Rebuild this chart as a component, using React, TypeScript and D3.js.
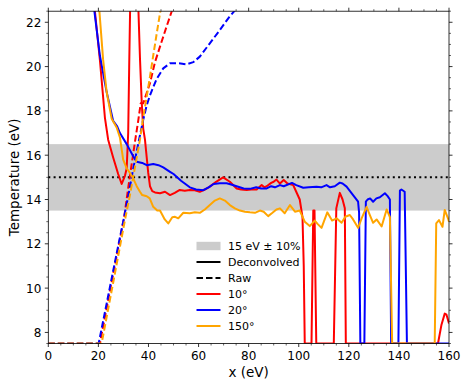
import React from "react";
import * as d3 from "d3";

type Pt = [number, number];

const xTicks = [0, 20, 40, 60, 80, 100, 120, 140, 160];
const yTicks = [8, 10, 12, 14, 16, 18, 20, 22];
const xDomain: Pt = [0, 160];
const yDomain: Pt = [7.5, 22.5];
const target = 15;
const bandLow = 13.5;
const bandHigh = 16.5;

const legendLabels = ["15 eV ± 10%", "Deconvolved", "Raw", "10°", "20°", "150°"];

const deconv10: Pt[] = [
  [17.5, 24], [18.6, 22.5], [20.6, 20.3], [22.6, 17.7], [23.9, 16.7], [25.9, 15.9], [27.9, 15.15],
  [29.3, 14.7], [30.6, 15.07], [31.3, 15.4], [31.9, 17.0], [32.3, 20], [32.8, 23.5], [35.6, 23.5],
  [36.0, 22.5], [36.6, 20.4], [37.3, 18.4], [37.9, 17.2], [38.6, 16.7], [39.9, 15.2], [40.6, 14.6],
  [41.5, 14.38], [42.6, 14.32], [44.6, 14.28], [46.6, 14.35], [48.6, 14.2], [50.5, 14.3], [52.5, 14.43],
  [54.5, 14.4], [56.5, 14.43], [58.5, 14.42], [60.5, 14.35], [62.5, 14.45], [64.5, 14.58], [67, 14.8],
  [69.8, 15.0], [72.5, 14.8], [75.2, 14.5], [77, 14.45], [79.2, 14.43], [81, 14.45], [83.2, 14.45],
  [85.2, 14.65], [86.3, 14.55], [87.2, 14.6], [89, 14.75], [90, 14.8], [91.1, 14.9], [92.5, 14.72],
  [94.0, 14.88], [95.5, 14.72], [97.8, 14.65], [99, 14.35], [100.4, 14.0], [101.5, 13.2], [102, 11],
  [102.4, 7.5], [105.1, 7.5], [105.8, 13.5], [106.3, 13.5], [107, 7.5], [114, 7.5], [115, 13.6],
  [116.4, 14.3], [117.5, 14.0], [118.4, 13.6], [118.8, 7.5], [155.6, 7.5], [157, 8.35], [158.3, 8.85],
  [159, 8.8], [160, 8.4],
];

const deconv20: Pt[] = [
  [17.5, 24], [18.4, 22.5], [20.6, 20.5], [23.3, 18.85], [25.9, 17.55], [27.5, 17.3], [28.6, 17.0],
  [31.3, 16.5], [33.9, 15.95], [35.3, 15.7], [37.5, 15.65], [39.3, 15.55], [41.9, 15.6], [44, 15.55],
  [45.9, 15.45], [48.6, 15.25], [50, 15.15], [53, 14.85], [56.5, 14.55], [59, 14.45], [61.9, 14.42],
  [64, 14.55], [66, 14.7], [68.5, 14.73], [71.2, 14.73], [73, 14.68], [75.2, 14.6], [78, 14.5],
  [80.5, 14.48], [83, 14.55], [85, 14.5], [87.2, 14.5], [89, 14.6], [90.5, 14.55], [92.5, 14.65],
  [94, 14.6], [97.3, 14.75], [99, 14.65], [101.8, 14.53], [104, 14.55], [107.1, 14.58], [109, 14.55],
  [111.1, 14.65], [112.5, 14.55], [114.4, 14.6], [116.4, 14.76], [117.5, 14.72], [119.1, 14.58],
  [121.7, 14.2], [123.7, 13.9], [124.1, 13.4], [124.6, 7.5], [126.2, 7.5], [126.8, 13.9], [127.5, 14.0],
  [128.5, 14.05], [129.7, 13.9], [131, 14.05], [132.4, 14.1], [134.4, 14.28], [135.5, 14.15],
  [136.4, 14.0], [136.9, 7.5], [139.8, 7.5], [140.4, 14.4], [141, 14.45], [142.3, 14.35], [143.2, 7.5],
  [160, 7.5],
];

const deconv150: Pt[] = [
  [18.5, 24], [20.4, 22.5], [21.9, 20.3], [23.3, 18.85], [25.3, 17.65], [27.3, 17.25], [28.6, 16.8],
  [29.9, 15.8], [31.3, 15.4], [32.6, 15.2], [33.9, 14.95], [35.3, 14.6], [36.6, 14.35], [37.5, 14.2],
  [39.3, 14.15], [40.5, 14.05], [41.9, 13.67], [43.5, 13.5], [44.6, 13.5], [46.5, 13.1], [47.9, 12.92],
  [49.5, 13.2], [50.6, 13.22], [51.9, 13.15], [53.9, 13.4], [56.5, 13.38], [58.5, 13.42], [60.5, 13.4],
  [62.5, 13.55], [64.5, 13.75], [66.5, 13.95], [68.5, 14.05], [70.5, 13.95], [72.5, 13.75],
  [74.5, 13.6], [76.5, 13.5], [78.5, 13.45], [80.5, 13.42], [82.5, 13.4], [84.5, 13.5], [86, 13.45],
  [87.8, 13.25], [89.5, 13.4], [91.1, 13.55], [92.5, 13.6], [94.4, 13.38], [96.5, 13.75], [98.5, 13.45],
  [100.4, 13.5], [102.4, 13.0], [104.4, 12.8], [106.4, 13.05], [107.5, 12.9], [109.1, 12.72],
  [111.4, 13.42], [113.3, 13.05], [115.1, 13.15], [117.1, 12.95], [118.6, 13.22], [120.4, 13.3],
  [121.7, 13.1], [123.7, 12.72], [125.1, 13.15], [127.1, 13.67], [128.4, 13.3], [129.7, 12.95],
  [131.1, 13.1], [133.1, 12.78], [135.1, 13.55], [136.4, 13.2], [137.3, 7.5], [154.3, 7.5],
  [154.9, 12.92], [156, 13.07], [157.4, 12.77], [158.3, 13.53], [159.6, 13.15], [160, 13.0],
];

const raw10: Pt[] = [
  [0, 7.5], [20.6, 7.5], [25, 10.1], [30.3, 13.2], [32, 14.6], [34.6, 16.6], [35.9, 17.55],
  [36.9, 18.34], [37.9, 18.34], [40.6, 19.25], [42.6, 20.2], [44.6, 20.9], [47.2, 21.8], [49.3, 22.5],
  [50, 22.8],
];

const raw20: Pt[] = [
  [0, 7.5], [20.1, 7.5], [24, 9.7], [27, 11.4], [29.9, 13.0], [32, 14.2], [34, 15.45], [36.6, 16.9],
  [37.9, 17.6], [39.3, 18.25], [40.6, 18.7], [42, 19.1], [43.3, 19.45], [45.9, 19.92], [48.6, 20.15],
  [52, 20.15], [55.2, 20.1], [57.9, 20.2], [60.5, 20.45], [64.5, 21.05], [68.5, 21.65], [72, 22.2],
  [76.5, 22.8],
];

const raw150: Pt[] = [
  [0, 7.5], [21.3, 7.5], [26, 10.3], [30.6, 13.07], [32.6, 14.2], [34.6, 15.45], [36.6, 16.7],
  [37.9, 17.7], [39.3, 18.65], [40.6, 19.55], [41.9, 20.5], [43.3, 21.5], [44.6, 22.4], [45.2, 22.9],
];

const colors = { c10: "#ff0000", c20: "#0000ff", c150: "#ffa500", band: "#cccccc" };

const W = 468;
const H = 388;
const M = { left: 48.3, right: 449, top: 11.2, bottom: 343.5 };
const FONT = "DejaVu Sans, sans-serif";

export default function App() {
  const x = d3.scaleLinear().domain(xDomain).range([M.left, M.right]);
  const y = d3.scaleLinear().domain(yDomain).range([M.bottom, M.top]);
  const line = d3
    .line<Pt>()
    .x((d) => x(d[0]))
    .y((d) => y(d[1]));

  const xMinor = d3.range(xDomain[0], xDomain[1] + 0.01, 5).filter((v) => !xTicks.includes(v));
  const yMinor = d3.range(7.5, 22.51, 0.5).filter((v) => !yTicks.includes(v));

  const series = [
    { d: deconv10, c: colors.c10, dash: null },
    { d: raw10, c: colors.c10, dash: "6.5,3" },
    { d: deconv20, c: colors.c20, dash: null },
    { d: raw20, c: colors.c20, dash: "6.5,3" },
    { d: deconv150, c: colors.c150, dash: null },
    { d: raw150, c: colors.c150, dash: "6.5,3" },
  ];

  const legX0 = 196.5;
  const legX1 = 220.5;
  const legTextX = 228;
  const legY0 = 246;
  const legDy = 16;

  return (
    <svg
      width={W}
      height={H}
      style={{ position: "absolute", left: 0, top: 0, background: "#fff" }}
      fontFamily={FONT}
    >
      <defs>
        <clipPath id="plotClip">
          <rect x={M.left} y={M.top} width={M.right - M.left} height={M.bottom - M.top} />
        </clipPath>
      </defs>
      <rect x={0} y={0} width={W} height={H} fill="#fff" />
      <g clipPath="url(#plotClip)">
        <rect
          x={M.left}
          y={y(bandHigh)}
          width={M.right - M.left}
          height={y(bandLow) - y(bandHigh)}
          fill={colors.band}
        />
        <line
          x1={x(xDomain[0])}
          x2={x(xDomain[1])}
          y1={y(target)}
          y2={y(target)}
          stroke="#000"
          strokeWidth={2}
          strokeDasharray="2,3.3"
        />
        {series.map((s, i) => (
          <path
            key={i}
            d={line(s.d) || ""}
            fill="none"
            stroke={s.c}
            strokeWidth={2}
            strokeDasharray={s.dash || undefined}
            strokeLinejoin="round"
          />
        ))}
      </g>
      {/* spines */}
      <rect
        x={M.left}
        y={M.top}
        width={M.right - M.left}
        height={M.bottom - M.top}
        fill="none"
        stroke="#000"
        strokeWidth={0.8}
      />
      {/* x ticks */}
      {xTicks.map((t) => (
        <g key={"xt" + t}>
          <line x1={x(t)} x2={x(t)} y1={M.bottom} y2={M.bottom + 3.5} stroke="#000" strokeWidth={0.8} />
          <line x1={x(t)} x2={x(t)} y1={M.top} y2={M.top - 3.5} stroke="#000" strokeWidth={0.8} />
          <text x={x(t)} y={359.5} fontSize={12} textAnchor="middle" fill="#000">
            {t}
          </text>
        </g>
      ))}
      {xMinor.map((t) => (
        <g key={"xm" + t}>
          <line x1={x(t)} x2={x(t)} y1={M.bottom} y2={M.bottom + 2} stroke="#000" strokeWidth={0.6} />
          <line x1={x(t)} x2={x(t)} y1={M.top} y2={M.top - 2} stroke="#000" strokeWidth={0.6} />
        </g>
      ))}
      {yTicks.map((t) => (
        <g key={"yt" + t}>
          <line x1={M.left} x2={M.left - 3.5} y1={y(t)} y2={y(t)} stroke="#000" strokeWidth={0.8} />
          <line x1={M.right} x2={M.right + 3.5} y1={y(t)} y2={y(t)} stroke="#000" strokeWidth={0.8} />
          <text x={M.left - 7} y={y(t) + 4.4} fontSize={12} textAnchor="end" fill="#000">
            {t}
          </text>
        </g>
      ))}
      {yMinor.map((t) => (
        <g key={"ym" + t}>
          <line x1={M.left} x2={M.left - 2} y1={y(t)} y2={y(t)} stroke="#000" strokeWidth={0.6} />
          <line x1={M.right} x2={M.right + 2} y1={y(t)} y2={y(t)} stroke="#000" strokeWidth={0.6} />
        </g>
      ))}
      <text x={(M.left + M.right) / 2} y={377} fontSize={13.5} textAnchor="middle" fill="#000">
        x (eV)
      </text>
      <text
        transform={`translate(18.5, ${(M.top + M.bottom) / 2}) rotate(-90)`}
        fontSize={13.5}
        textAnchor="middle"
        fill="#000"
      >
        Temperature (eV)
      </text>
      {/* legend */}
      <g>
        <rect x={legX0} y={legY0 - 4.2} width={legX1 - legX0} height={8.4} fill={colors.band} />
        <line x1={legX0} x2={legX1} y1={legY0 + legDy} y2={legY0 + legDy} stroke="#000" strokeWidth={2} />
        <line
          x1={legX0}
          x2={legX1}
          y1={legY0 + 2 * legDy}
          y2={legY0 + 2 * legDy}
          stroke="#000"
          strokeWidth={2}
          strokeDasharray="6.5,3"
        />
        <line x1={legX0} x2={legX1} y1={legY0 + 3 * legDy} y2={legY0 + 3 * legDy} stroke={colors.c10} strokeWidth={2} />
        <line x1={legX0} x2={legX1} y1={legY0 + 4 * legDy} y2={legY0 + 4 * legDy} stroke={colors.c20} strokeWidth={2} />
        <line x1={legX0} x2={legX1} y1={legY0 + 5 * legDy} y2={legY0 + 5 * legDy} stroke={colors.c150} strokeWidth={2} />
        {legendLabels.map((lab, i) => (
          <text key={lab} x={legTextX} y={legY0 + i * legDy + 4} fontSize={11} fill="#000">
            {lab}
          </text>
        ))}
      </g>
    </svg>
  );
}
